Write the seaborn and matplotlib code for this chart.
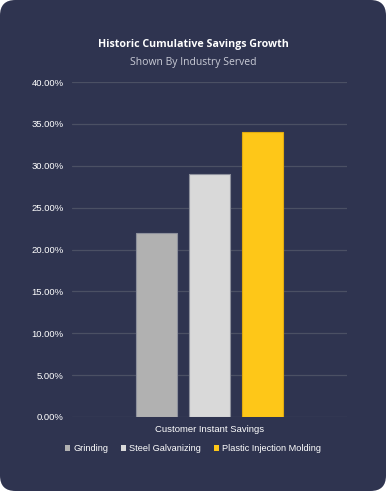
import matplotlib
matplotlib.use("Agg")
import matplotlib.pyplot as plt
from matplotlib.patches import FancyBboxPatch
from matplotlib.ticker import PercentFormatter
import seaborn as sns
import pandas as pd

# datos
industrias = ["Grinding", "Steel Galvanizing", "Plastic Injection Molding"]
ahorros = [0.22, 0.29, 0.34]
categoria = "Customer Instant Savings"
colores = ["#b1b1b1", "#d9d9d9", "#fec718"]

df = pd.DataFrame({"categoria": [categoria] * 3, "industria": industrias, "valor": ahorros})

sns.set_theme(style="white")
plt.rcParams["font.family"] = ["Liberation Sans", "DejaVu Sans"]

fondo = "#2f3450"
fig = plt.figure(figsize=(3.86, 4.91), dpi=100)
fig.patch.set_facecolor("white")
card = FancyBboxPatch((0.0, 0.0), 1.0, 1.0, boxstyle="round,pad=0,rounding_size=0.04",
                      transform=fig.transFigure, facecolor=fondo, edgecolor="none",
                      mutation_aspect=386 / 491, zorder=-10)
fig.patches.append(card)

ax = fig.add_axes([72 / 386, 1 - 417 / 491, 275 / 386, 335 / 491])
ax.set_facecolor("none")
sns.barplot(data=df, x="categoria", y="valor", hue="industria", palette=colores,
            width=0.578, gap=0.23, saturation=1, ax=ax, legend=True)
for patch, ec in zip(ax.patches, ["#8d909c", "#8d909c", "#e0ab10"]):
    patch.set_edgecolor(ec)
    patch.set_linewidth(0.8)

ax.set_ylim(0, 0.40)
ax.set_xlim(-0.5, 0.5)
ax.set_yticks([i * 0.05 for i in range(9)])
ax.yaxis.set_major_formatter(PercentFormatter(1.0, decimals=2))
ax.grid(axis="y", color="#4b5064", linewidth=0.9)
ax.set_axisbelow(True)
for s in ax.spines.values():
    s.set_visible(False)
ax.tick_params(axis="y", colors="white", labelsize=6.8, length=0, pad=6)
ax.tick_params(axis="x", colors="white", labelsize=6.8, length=0, pad=6)
ax.set_xlabel("")
ax.set_ylabel("")

leg = ax.legend(loc="upper center", bbox_to_anchor=(0.44, -0.057), ncol=3, frameon=False,
                fontsize=6.6, handlelength=0.6, handleheight=0.6, handletextpad=0.3,
                columnspacing=1.4, labelcolor="white")
for h in leg.legend_handles:
    h.set_edgecolor("none")

fig.text(0.5, 1 - 45 / 491, "Historic Cumulative Savings Growth", ha="center", va="center",
         color="white", fontsize=7.7, fontweight="bold", family=["Open Sans", "DejaVu Sans"])
fig.text(0.5, 1 - 62 / 491, "Shown By Industry Served", ha="center", va="center",
         color="#c9cbd6", fontsize=7.5, family=["Open Sans", "DejaVu Sans"])

fig.savefig("out.png", dpi=100, facecolor=fig.get_facecolor())
